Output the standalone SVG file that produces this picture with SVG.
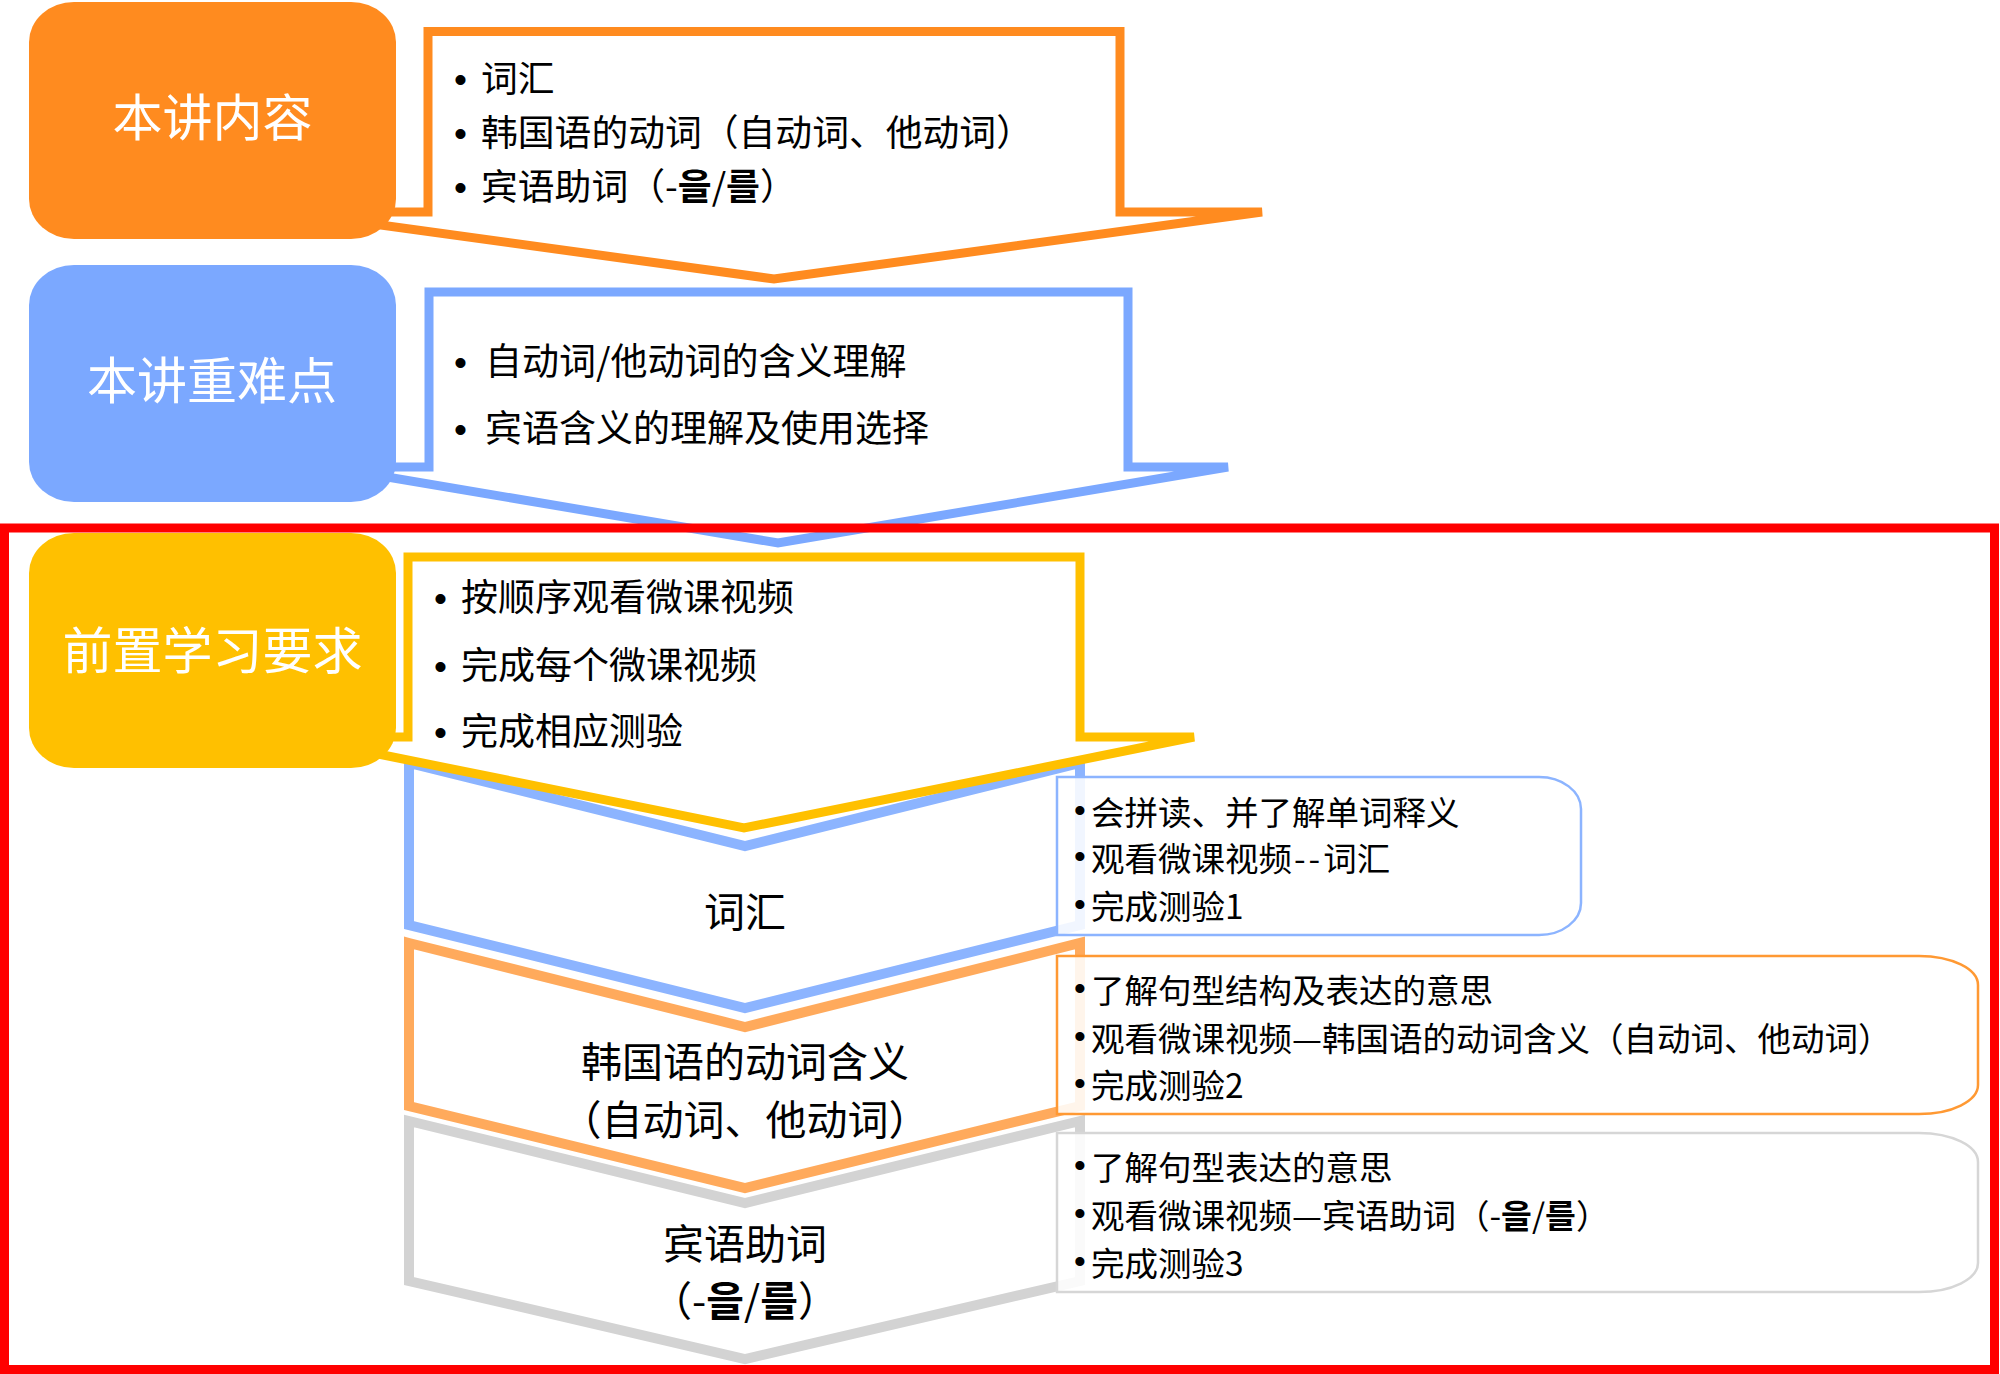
<svg xmlns="http://www.w3.org/2000/svg" width="2000" height="1374" viewBox="0 0 2000 1374">
<style>
.cjk{font-family:"Noto Sans CJK SC","Noto Sans CJK KR",sans-serif;fill:#000}
.bul{font-family:"Liberation Sans",Arial,sans-serif}
.title{font-size:50px;fill:#fff;text-anchor:middle}
.at{font-size:37px}
.bt{font-size:33.5px}
.ct{font-size:41px;text-anchor:middle}
.arrow{fill:#fff;stroke-width:9;stroke-linejoin:miter;stroke-miterlimit:4}
.chev{fill:#fff;stroke-width:10;stroke-linejoin:miter}
.box{fill:#fff;fill-opacity:0.88;stroke-width:2.5}
.hg{font-weight:bold}
</style>
<rect width="2000" height="1374" fill="#fff"/>

<g id="connectors">
  <path id="arrow-content" class="arrow" stroke="#FF8B1F" d="M428,31.5 H1120 V212 H1262 L774,279 L286,212 H428 Z"/>
  <path id="arrow-key" class="arrow" stroke="#7BA8FF" d="M429,292 H1128 V467 H1228 L778,543 L328,467 H429 Z"/>
</g>

<g id="node-chev-vocab">
  <path class="chev" stroke="#8CB4FF" d="M409,763 L745,846 L1080,763 V925 L745,1008 L409,925 Z"/>
  <text class="cjk ct" x="745" y="927">词汇</text>
</g>
<g id="node-chev-verb">
  <path class="chev" stroke="#FFAA5C" d="M409,943 L745,1027 L1080,943 V1106 L745,1188 L409,1106 Z"/>
  <text class="cjk ct" x="745" y="1077">韩国语的动词含义</text>
  <text class="cjk ct" x="745" y="1135">（自动词、他动词）</text>
</g>
<g id="node-chev-object">
  <path class="chev" stroke="#D3D3D3" d="M409,1121 L745,1203 L1080,1121 V1281 L745,1359 L409,1281 Z"/>
  <text class="cjk ct" x="745" y="1259">宾语助词</text>
  <text class="cjk ct" x="745" y="1316">（-<tspan class="hg">을</tspan>/<tspan class="hg">를</tspan>）</text>
</g>

<g id="arrow-prereq-group">
  <path id="arrow-prereq" class="arrow" stroke="#FFC000" d="M408,557 H1080 V737 H1194 L744,828 L294,737 H408 Z"/>
</g>

<g id="node-box-vocab">
  <path class="box" stroke="#8CB4FF" d="M1057,777 H1539 A42,32 0 0 1 1581,809 V903 A42,32 0 0 1 1539,935 H1057 Z"/>
  <text class="bul bt" x="1074" y="822">•</text><text class="cjk bt" x="1091" y="825">会拼读、并了解单词释义</text>
  <text class="bul bt" x="1074" y="868">•</text><text class="cjk bt" x="1091" y="871">观看微课视频<tspan dx="2" letter-spacing="3">--</tspan>词汇</text>
  <text class="bul bt" x="1074" y="916">•</text><text class="cjk bt" x="1091" y="919">完成测验1</text>
</g>
<g id="node-box-verb">
  <path class="box" stroke="#FF9933" d="M1057,956 H1919 A59,29 0 0 1 1978,985 V1085 A59,29 0 0 1 1919,1114 H1057 Z"/>
  <text class="bul bt" x="1074" y="1000">•</text><text class="cjk bt" x="1091" y="1003">了解句型结构及表达的意思</text>
  <text class="bul bt" x="1074" y="1048">•</text><text class="cjk bt" x="1091" y="1051">观看微课视频—韩国语的动词含义（自动词、他动词）</text>
  <text class="bul bt" x="1074" y="1095">•</text><text class="cjk bt" x="1091" y="1098">完成测验2</text>
</g>
<g id="node-box-object">
  <path class="box" stroke="#D6D6D6" d="M1057,1133 H1919 A59,29 0 0 1 1978,1162 V1263 A59,29 0 0 1 1919,1292 H1057 Z"/>
  <text class="bul bt" x="1074" y="1177">•</text><text class="cjk bt" x="1091" y="1180">了解句型表达的意思</text>
  <text class="bul bt" x="1074" y="1225">•</text><text class="cjk bt" x="1091" y="1228">观看微课视频—宾语助词（-<tspan class="hg">을</tspan>/<tspan class="hg">를</tspan>）</text>
  <text class="bul bt" x="1074" y="1273">•</text><text class="cjk bt" x="1091" y="1276">完成测验3</text>
</g>

<g id="node-content">
  <rect x="29" y="2" width="367" height="237" rx="45" ry="40" fill="#FF8B1F"/>
  <text class="cjk title" x="212.5" y="136">本讲内容</text>
</g>
<g id="node-content-text">
  <text class="bul at" x="454" y="92">•</text><text class="cjk at" x="481" y="92" style="font-size:36.8px">词汇</text>
  <text class="bul at" x="454" y="146">•</text><text class="cjk at" x="481" y="146" style="font-size:36.8px">韩国语的动词（自动词、他动词）</text>
  <text class="bul at" x="454" y="200">•</text><text class="cjk at" x="481" y="200" style="font-size:36.8px">宾语助词（-<tspan class="hg">을</tspan>/<tspan class="hg">를</tspan>）</text>
</g>

<g id="node-key">
  <rect x="29" y="265" width="367" height="237" rx="45" ry="40" fill="#7BA8FF"/>
  <text class="cjk title" x="212" y="399">本讲重难点</text>
</g>
<g id="node-key-text">
  <text class="bul at" x="454" y="375">•</text><text class="cjk at" x="485" y="375">自动词/他动词的含义理解</text>
  <text class="bul at" x="454" y="442">•</text><text class="cjk at" x="485" y="442">宾语含义的理解及使用选择</text>
</g>

<g id="node-prereq">
  <rect x="29" y="533" width="367" height="235" rx="45" ry="40" fill="#FFC000"/>
  <text class="cjk title" x="212.5" y="669">前置学习要求</text>
</g>
<g id="node-prereq-text">
  <text class="bul at" x="434" y="611">•</text><text class="cjk at" x="461" y="611">按顺序观看微课视频</text>
  <text class="bul at" x="434" y="679">•</text><text class="cjk at" x="461" y="679">完成每个微课视频</text>
  <text class="bul at" x="434" y="745">•</text><text class="cjk at" x="461" y="745">完成相应测验</text>
</g>

<g id="frame">
  <rect x="4.5" y="528" width="1990" height="841.5" fill="none" stroke="#FF0000" stroke-width="9"/>
</g>
</svg>
